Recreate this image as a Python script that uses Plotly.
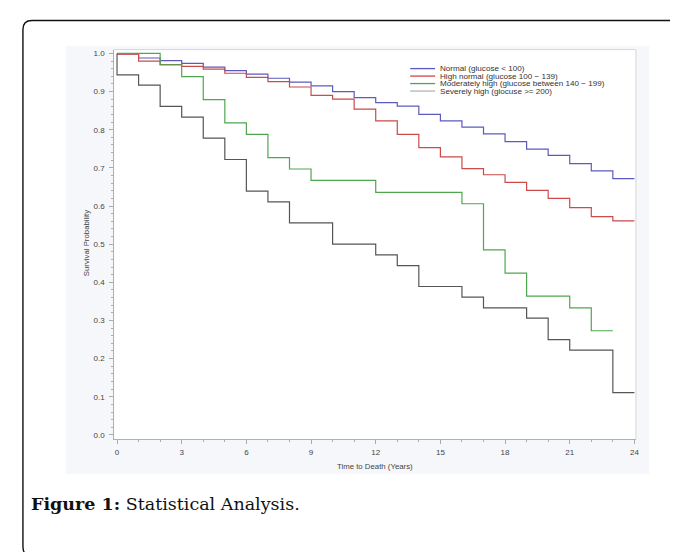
import plotly.graph_objects as go

W, H = 678, 552

# ---- data ----
normal_t = [0, 1, 2, 3, 4, 5, 6, 7, 8, 9, 10, 11, 12, 13, 14, 15, 16, 17, 18, 19, 20, 21, 22, 23, 24]
normal_s = [0.999, 0.988, 0.981, 0.974, 0.964, 0.955, 0.946, 0.935, 0.925, 0.915, 0.900, 0.884,
            0.871, 0.862, 0.840, 0.823, 0.807, 0.789, 0.769, 0.749, 0.733, 0.711, 0.692, 0.672, 0.672]

highnormal_t = [0, 1, 2, 3, 4, 5, 6, 7, 8, 9, 10, 11, 12, 13, 14, 15, 16, 17, 18, 19, 20, 21, 22, 23, 24]
highnormal_s = [0.998, 0.980, 0.971, 0.966, 0.959, 0.948, 0.937, 0.926, 0.912, 0.890, 0.880, 0.854,
                0.823, 0.788, 0.753, 0.729, 0.698, 0.682, 0.662, 0.641, 0.620, 0.596, 0.572, 0.561, 0.561]

moderate_t = [0, 2, 3, 4, 5, 6, 7, 8, 9, 12, 16, 17, 18, 19, 21, 22, 23]
moderate_s = [1.0, 0.970, 0.939, 0.879, 0.818, 0.788, 0.727, 0.697, 0.667, 0.636, 0.606, 0.485,
              0.424, 0.364, 0.333, 0.273, 0.273]

severe_t = [0, 0, 1, 2, 3, 4, 5, 6, 7, 8, 10, 12, 13, 14, 16, 17, 19, 20, 21, 23, 24]
severe_s = [1.0, 0.944, 0.917, 0.861, 0.833, 0.778, 0.722, 0.639, 0.611, 0.556, 0.500, 0.472,
            0.444, 0.389, 0.361, 0.333, 0.306, 0.250, 0.222, 0.111, 0.111]

series_names = ["Normal (glucose < 100)",
                "High normal (glucose 100 \u2212 139)",
                "Moderately high (glucose between 140 \u2212 199)",
                "Severely high (glocuse >= 200)"]
series_colors = ["#5a5abf", "#cc4a4a", "#4ea64e", "#555555"]
legend_colors = ["#5a5abf", "#cc4a4a", "#4ea64e", "#b4b4b4"]

x_ticks = [0, 3, 6, 9, 12, 15, 18, 21, 24]
y_ticks = [0.0, 0.1, 0.2, 0.3, 0.4, 0.5, 0.6, 0.7, 0.8, 0.9, 1.0]

# ---- layout helpers (pixel -> paper) ----
def px(x):
    return x / W

def py(y):
    return 1 - y / H

plot_l, plot_r, plot_t, plot_b = 106.7, 630.7, 41.7, 431.5

fig = go.Figure()
all_t = [normal_t, highnormal_t, moderate_t, severe_t]
all_s = [normal_s, highnormal_s, moderate_s, severe_s]
for name, t, s, c in zip(series_names, all_t, all_s, series_colors):
    fig.add_trace(go.Scatter(x=t, y=s, mode="lines", name=name,
                             line=dict(color=c, width=1.2, shape="hv"),
                             showlegend=False, hoverinfo="skip"))

tickfont = dict(family="Liberation Sans, Arial, sans-serif", size=8, color="#444444")

fig.update_layout(
    width=W, height=H,
    margin=dict(l=0, r=0, t=0, b=0),
    paper_bgcolor="white",
    plot_bgcolor="white",
    showlegend=False,
    xaxis=dict(domain=[px(plot_l), px(plot_r)], range=[-0.13, 24.07],
               tickvals=x_ticks, ticks="outside", ticklen=4, tickcolor="#aaaaaa",
               minor=dict(dtick=1, ticks="outside", ticklen=2, tickcolor="#aaaaaa"),
               showline=True, linecolor="#b0b0b0", linewidth=1,
               showgrid=False, zeroline=False, tickfont=tickfont, ticklabelstandoff=2),
    yaxis=dict(domain=[py(plot_b), py(plot_t)], range=[-0.01, 1.01],
               tickvals=y_ticks, tickformat=".1f", ticks="outside", ticklen=4, tickcolor="#aaaaaa",
               minor=dict(dtick=0.02, ticks="outside", ticklen=2, tickcolor="#aaaaaa"),
               showline=True, linecolor="#b0b0b0", linewidth=1,
               showgrid=False, zeroline=False, tickfont=tickfont, ticklabelstandoff=3),
)

shapes = []
# faint background of the embedded chart image (only around the white plot area)
bg = "#f6f7fb"
img_l, img_r, img_t, img_b = 58, 644, 38, 467
for (a, b, c, d) in [(img_l, plot_l, img_t, img_b), (plot_r, img_r, img_t, img_b),
                     (plot_l, plot_r, img_t, plot_t), (plot_l, plot_r, plot_b, img_b)]:
    shapes.append(dict(type="rect", xref="paper", yref="paper", x0=px(a), x1=px(b),
                       y0=py(d), y1=py(c), line=dict(width=0), fillcolor=bg, layer="below"))
# light frame on top/right of plot area
shapes.append(dict(type="path", xref="paper", yref="paper",
                   path=f"M{px(plot_l)},{py(plot_t)} L{px(plot_r)},{py(plot_t)} L{px(plot_r)},{py(plot_b)}",
                   line=dict(color="#d6d6d6", width=1)))
# outer rounded border
r = 9
bx0, by0, by1, bx1 = 15, 12.5, 549, 690
path = (f"M{px(bx1)},{py(by0)} L{px(bx0 + r)},{py(by0)} "
        f"Q{px(bx0)},{py(by0)} {px(bx0)},{py(by0 + r)} "
        f"L{px(bx0)},{py(by1 - r)} Q{px(bx0)},{py(by1)} {px(bx0 + r)},{py(by1)} "
        f"L{px(bx1)},{py(by1)}")
shapes.append(dict(type="path", xref="paper", yref="paper", path=path,
                   line=dict(color="#111111", width=1.4)))

# manual legend
leg_rows = [60.7, 68.2, 75.7, 83.2]
annotations = []
for name, c, yy in zip(series_names, legend_colors, leg_rows):
    shapes.append(dict(type="line", xref="paper", yref="paper", x0=px(404), x1=px(429),
                       y0=py(yy), y1=py(yy), line=dict(color=c, width=1.3)))
    annotations.append(dict(xref="paper", yref="paper", x=px(432.5), y=py(yy), text=name,
                            showarrow=False, xanchor="left", yanchor="middle", borderpad=0,
                            font=dict(family="Liberation Sans, Arial, sans-serif", size=8.1, color="#333333")))

# axis titles
annotations.append(dict(xref="paper", yref="paper", x=px(369), y=py(459), text="Time to Death (Years)",
                        showarrow=False, xanchor="center", yanchor="middle",
                        font=dict(family="Liberation Sans, Arial, sans-serif", size=7.8, color="#444444")))
annotations.append(dict(xref="paper", yref="paper", x=px(79), y=py(236), text="Survival Probability",
                        showarrow=False, xanchor="center", yanchor="middle", textangle=-90,
                        font=dict(family="Liberation Sans, Arial, sans-serif", size=7.8, color="#444444")))
# caption
annotations.append(dict(xref="paper", yref="paper", x=px(22), y=py(497),
                        text="<b>Figure 1:</b> Statistical Analysis.",
                        showarrow=False, xanchor="left", yanchor="middle", borderpad=0,
                        font=dict(family="DejaVu Serif, Liberation Serif, serif", size=17.5, color="#111111")))

fig.update_layout(shapes=shapes, annotations=annotations)
fig.write_html("out.html")
